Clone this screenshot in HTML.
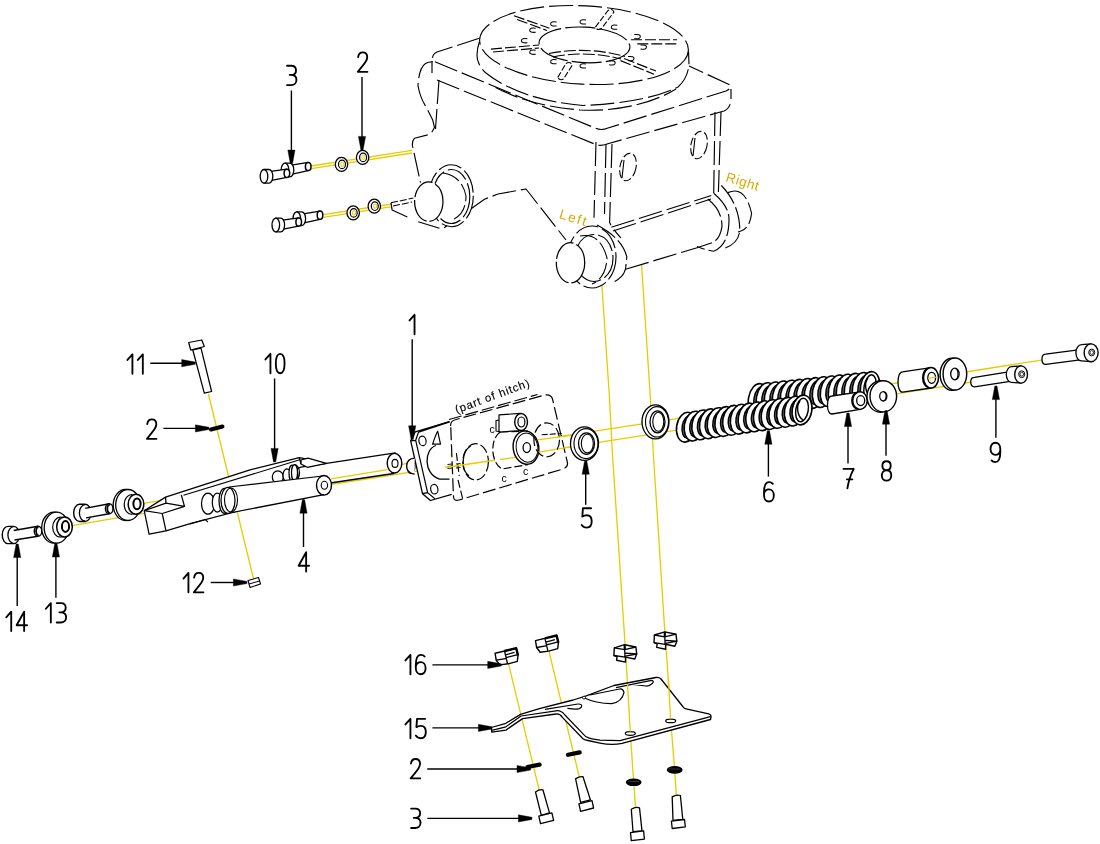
<!DOCTYPE html>
<html><head><meta charset="utf-8"><style>
html,body{margin:0;padding:0;background:#fff;width:1100px;height:844px;overflow:hidden}
svg{display:block;will-change:transform}
</style></head><body>
<svg width="1100" height="844" viewBox="0 0 1100 844">
<rect width="1100" height="844" fill="#fff"/>
<polyline points="308,166.5 412,150.3" fill="none" stroke="#e6cc00" stroke-width="1.3"/>
<polyline points="308,169.2 412,153" fill="none" stroke="#e6cc00" stroke-width="1.3"/>
<polyline points="320,215.2 392,204" fill="none" stroke="#e6cc00" stroke-width="1.3"/>
<polyline points="320,217.8 392,206.6" fill="none" stroke="#e6cc00" stroke-width="1.3"/>
<polyline points="601.8,284 609.3,395 612.5,455 624.8,640 626.4,665 630.3,733 633.7,782 635.5,808" fill="none" stroke="#e6cc00" stroke-width="1.3"/>
<polyline points="641.5,264 650.2,395 653.4,455 664.7,630 667.3,665 670.7,720.7 674.7,770 676.3,795.5" fill="none" stroke="#e6cc00" stroke-width="1.3"/>
<polyline points="208.4,394 253.6,579" fill="none" stroke="#e6cc00" stroke-width="1.3"/>
<polyline points="38.2,531.2 72.3,525.7 146,512.8" fill="none" stroke="#e6cc00" stroke-width="1.3"/>
<polyline points="111.9,508.6 136.4,504.6 166,499.6" fill="none" stroke="#e6cc00" stroke-width="1.3"/>
<polyline points="324,485.5 445,466.8 575,446.2 680,429.6 760,417" fill="none" stroke="#e6cc00" stroke-width="1.3"/>
<polyline points="324,480 388,469.5 410,462 537.5,439.8 680,418.2 760,405.5" fill="none" stroke="#e6cc00" stroke-width="1.3"/>
<polyline points="760,405.5 890,384 1043,359.8" fill="none" stroke="#e6cc00" stroke-width="1.3"/>
<polyline points="760,417 890,394.8 972,382" fill="none" stroke="#e6cc00" stroke-width="1.3"/>
<polyline points="508.5,663.8 539.2,790" fill="none" stroke="#e6cc00" stroke-width="1.3"/>
<polyline points="548.9,651.1 579.3,777" fill="none" stroke="#e6cc00" stroke-width="1.3"/>
<path d="M480,38 L437,52 Q431,55 433,61 L595,128 Q601,131 608,128 L726,91 Q734,87 728,84 L689,66" fill="none" stroke="#000" stroke-width="1.15" stroke-dasharray="24 5" stroke-linejoin="round"/>
<path d="M432,61 L432,73 M437,80 L597,145 Q602,146 607,144 L724,111 Q731,108 731,98 L731,89" fill="none" stroke="#000" stroke-width="1.15" stroke-dasharray="24 5" stroke-linejoin="round"/>
<path d="M479.4,41.8 Q476,52 477.5,59.6 Q480,68 485.6,72.7 Q520,100 583,105.5 Q645,103 678,87 Q688,78 689,64 L688.5,51.2" fill="#fff" stroke="#000" stroke-width="1.15" stroke-dasharray="24 5" stroke-linejoin="round"/>
<path d="M495.5,87.5 C520,100 545,107 580,110 C620,112 655,102 676,89" fill="none" stroke="#000" stroke-width="1.15" stroke-dasharray="24 5" stroke-linejoin="round"/>
<ellipse cx="584" cy="45" rx="104.5" ry="39.2" transform="rotate(3 584 45)" fill="#fff" stroke="#000" stroke-width="1.15" stroke-dasharray="24 5"/>
<ellipse cx="584.5" cy="44.9" rx="45.5" ry="17.8" transform="rotate(3 584.5 44.9)" fill="#fff" stroke="#000" stroke-width="1.15" stroke-dasharray="30 4"/>
<path d="M514,15.7 L549.4,28.2" fill="none" stroke="#000" stroke-width="1.15" stroke-dasharray="11 3" stroke-linejoin="round"/>
<path d="M517,19.5 L547,30.5" fill="none" stroke="#000" stroke-width="1.15" stroke-dasharray="11 3" stroke-linejoin="round"/>
<path d="M491,49.1 L539,45" fill="none" stroke="#000" stroke-width="1.15" stroke-dasharray="11 3" stroke-linejoin="round"/>
<path d="M493,52 L539,48" fill="none" stroke="#000" stroke-width="1.15" stroke-dasharray="11 3" stroke-linejoin="round"/>
<path d="M631,39.7 L677,39.7" fill="none" stroke="#000" stroke-width="1.15" stroke-dasharray="11 3" stroke-linejoin="round"/>
<path d="M637.3,43.9 L677,43.9" fill="none" stroke="#000" stroke-width="1.15" stroke-dasharray="11 3" stroke-linejoin="round"/>
<path d="M620.5,60.6 L654,74.2" fill="none" stroke="#000" stroke-width="1.15" stroke-dasharray="11 3" stroke-linejoin="round"/>
<path d="M624,58.5 L656,71" fill="none" stroke="#000" stroke-width="1.15" stroke-dasharray="11 3" stroke-linejoin="round"/>
<path d="M595.4,27.2 L608,10.5 Q612,8 614,12 L601.5,28.5 Q597.5,31 595.4,27.2 Z" fill="none" stroke="#000" stroke-width="1.1" stroke-dasharray="6 2" stroke-linejoin="round"/>
<path d="M557.8,77.4 L566,63.5 Q570,61 572.4,65 L563.5,79 Q559.5,81 557.8,77.4 Z" fill="none" stroke="#000" stroke-width="1.1" stroke-dasharray="6 2" stroke-linejoin="round"/>
<path transform="translate(532.7,30.3) rotate(0)" d="M3,-2 Q-3,-3 -3,0 Q-3,2.5 3,2" fill="none" stroke="#000" stroke-width="1.05"/>
<path transform="translate(553.6,24) rotate(0)" d="M3,-2 Q-3,-3 -3,0 Q-3,2.5 3,2" fill="none" stroke="#000" stroke-width="1.05"/>
<path transform="translate(583,22) rotate(0)" d="M3,-2 Q-3,-3 -3,0 Q-3,2.5 3,2" fill="none" stroke="#000" stroke-width="1.05"/>
<path transform="translate(614.3,27.2) rotate(0)" d="M3,-2 Q-3,-3 -3,0 Q-3,2.5 3,2" fill="none" stroke="#000" stroke-width="1.05"/>
<path transform="translate(637.3,36.6) rotate(180)" d="M3,-2 Q-3,-3 -3,0 Q-3,2.5 3,2" fill="none" stroke="#000" stroke-width="1.05"/>
<path transform="translate(643.5,47) rotate(180)" d="M3,-2 Q-3,-3 -3,0 Q-3,2.5 3,2" fill="none" stroke="#000" stroke-width="1.05"/>
<path transform="translate(524.4,40.8) rotate(0)" d="M3,-2 Q-3,-3 -3,0 Q-3,2.5 3,2" fill="none" stroke="#000" stroke-width="1.05"/>
<path transform="translate(532.7,52.3) rotate(0)" d="M3,-2 Q-3,-3 -3,0 Q-3,2.5 3,2" fill="none" stroke="#000" stroke-width="1.05"/>
<path transform="translate(553.6,61.7) rotate(0)" d="M3,-2 Q-3,-3 -3,0 Q-3,2.5 3,2" fill="none" stroke="#000" stroke-width="1.05"/>
<path transform="translate(583,65.9) rotate(0)" d="M3,-2 Q-3,-3 -3,0 Q-3,2.5 3,2" fill="none" stroke="#000" stroke-width="1.05"/>
<path transform="translate(612.2,62.7) rotate(180)" d="M3,-2 Q-3,-3 -3,0 Q-3,2.5 3,2" fill="none" stroke="#000" stroke-width="1.05"/>
<path transform="translate(631,58.5) rotate(180)" d="M3,-2 Q-3,-3 -3,0 Q-3,2.5 3,2" fill="none" stroke="#000" stroke-width="1.05"/>
<path d="M549,53.5 Q587,46 625,56.5" fill="none" stroke="#000" stroke-width="1.1" stroke-dasharray="12 3" stroke-linejoin="round"/>
<path d="M553,57 Q587,50 621,59" fill="none" stroke="#000" stroke-width="1.1" stroke-dasharray="12 3" stroke-linejoin="round"/>
<path d="M432.7,61.8 Q428,62 425.5,63.6 Q419,68 418,85.5 Q420,98 426.4,107.3 L432.7,120 L434.5,127.3 Q432,133 429,134.5 L414.5,138.2 Q412,141 412.3,145 L420.5,182.7" fill="none" stroke="#000" stroke-width="1.15" stroke-dasharray="24 5" stroke-linejoin="round"/>
<path d="M439,80 L435.5,129" fill="none" stroke="#000" stroke-width="1.15" stroke-dasharray="24 5" stroke-linejoin="round"/>
<path d="M391,202.8 L392.1,209.9 L409.9,218.2 M418.2,221.8 L439.5,228.3 M444.2,227.7 L484.5,199.2 L498,194 L526,189 L566,240" fill="none" stroke="#000" stroke-width="1.15" stroke-dasharray="24 5" stroke-linejoin="round"/>
<path d="M391,202.8 L413.4,198 M393,206 L412,202" fill="none" stroke="#000" stroke-width="1.05" stroke-dasharray="7 2" stroke-linejoin="round"/>
<ellipse cx="451.3" cy="195.7" rx="22" ry="31" fill="#fff" stroke="#000" stroke-width="1.15" stroke-dasharray="24 4"/>
<ellipse cx="451.3" cy="196.5" rx="18.5" ry="27" fill="none" stroke="#000" stroke-width="1.15" stroke-dasharray="22 4"/>
<path d="M443,173 Q462,176 466,196 Q466,214 452,220" fill="none" stroke="#000" stroke-width="1.1" stroke-dasharray="18 4" stroke-linejoin="round"/>
<ellipse cx="428.8" cy="201.6" rx="14.2" ry="19.8" fill="#fff" stroke="#000" stroke-width="1.25" stroke-dasharray="26 3"/>
<path d="M596,142 L594,217.8" fill="none" stroke="#000" stroke-width="1.15" stroke-dasharray="24 5" stroke-linejoin="round"/>
<path d="M606,144 L604.5,214 M612,144 L609.6,222.5 Q612,228 620.8,237.9" fill="none" stroke="#000" stroke-width="1.15" stroke-dasharray="24 5" stroke-linejoin="round"/>
<path d="M721,112 L718.4,192 M715,112 L713.7,193" fill="none" stroke="#000" stroke-width="1.15" stroke-dasharray="24 5" stroke-linejoin="round"/>
<ellipse cx="628" cy="167" rx="8" ry="14" transform="rotate(12 628 167)" fill="#fff" stroke="#000" stroke-width="1.1" stroke-dasharray="8 3"/>
<ellipse cx="699" cy="145" rx="8" ry="14" transform="rotate(12 699 145)" fill="#fff" stroke="#000" stroke-width="1.1" stroke-dasharray="8 3"/>
<path d="M624,160 L622,178 M695,138 L693,156" fill="none" stroke="#000" stroke-width="1.1" stroke-linejoin="round"/>
<path d="M611.3,227.3 L711.3,195.5 M613,231 L711,199" fill="none" stroke="#000" stroke-width="1.15" stroke-dasharray="24 5" stroke-linejoin="round"/>
<path d="M625.6,269.3 L697.1,247.7" fill="none" stroke="#000" stroke-width="1.15" stroke-dasharray="24 5" stroke-linejoin="round"/>
<path d="M597,225 Q622,238 626.8,256.9 L625.6,268.7 Q624,274 622,275.8 Q617,281 611.3,283" fill="none" stroke="#000" stroke-width="1.15" stroke-dasharray="22 4" stroke-linejoin="round"/>
<path d="M707.8,199 Q722,210 722,226.4 Q720,240 711.3,243 L697.1,247.7" fill="none" stroke="#000" stroke-width="1.15" stroke-dasharray="22 4" stroke-linejoin="round"/>
<path d="M713.7,193.2 Q729,206 729,219.2 Q729,245 713.7,251.2 Q705,250 697,246.5" fill="none" stroke="#000" stroke-width="1.15" stroke-dasharray="22 4" stroke-linejoin="round"/>
<path d="M721.4,185.5 Q740,205 739.8,231 Q738,245 722,248.9" fill="none" stroke="#000" stroke-width="1.15" stroke-dasharray="22 4" stroke-linejoin="round"/>
<path d="M727.9,192.6 Q745,185 751.6,213.3 Q750,228 741,231 L738,232" fill="none" stroke="#000" stroke-width="1.15" stroke-dasharray="22 4" stroke-linejoin="round"/>
<ellipse cx="592" cy="257" rx="24" ry="31" fill="#fff" stroke="#000" stroke-width="1.15" stroke-dasharray="24 4"/>
<ellipse cx="594" cy="258" rx="19" ry="23.5" fill="none" stroke="#000" stroke-width="1.15" stroke-dasharray="22 4"/>
<path d="M580,236 Q600,232 607,258 Q606,278 592,284" fill="none" stroke="#000" stroke-width="1.1" stroke-dasharray="18 4" stroke-linejoin="round"/>
<ellipse cx="570.5" cy="262.8" rx="14.2" ry="20.1" fill="#fff" stroke="#000" stroke-width="1.25" stroke-dasharray="26 3"/>
<text x="558.6" y="218" transform="rotate(17 558.6 218)" font-family="Liberation Sans, sans-serif" font-size="13.5" fill="#dba800" letter-spacing="1.6">Left</text>
<text x="725" y="181" transform="rotate(17 725 181)" font-family="Liberation Sans, sans-serif" font-size="13.5" fill="#dba800" letter-spacing="0.6">Right</text>
<path d="M290,165.4 L308.2,162.4 L308.2,170.6 L290,174.6 Z" fill="#fff" stroke="#000" stroke-width="1.3" stroke-linejoin="round"/>
<ellipse cx="308.2" cy="166.5" rx="2.8" ry="4.1" fill="#fff" stroke="#000" stroke-width="1.5"/>
<path d="M285,163.2 L290,163.2 A3.8,6.8 0 0 1 290,176.8 L285,176.8 Z" fill="#fff" stroke="#000" stroke-width="1.3" stroke-linejoin="round"/>
<ellipse cx="285" cy="170" rx="3.8" ry="6.8" fill="#fff" stroke="#000" stroke-width="1.3"/>
<path d="M269,171.7 L286.9,169.2 L286.9,177.4 L269,180.9 Z" fill="#fff" stroke="#000" stroke-width="1.3" stroke-linejoin="round"/>
<ellipse cx="286.9" cy="173.3" rx="2.8" ry="4.1" fill="#fff" stroke="#000" stroke-width="1.5"/>
<path d="M264,169.5 L269,169.5 A3.8,6.8 0 0 1 269,183.1 L264,183.1 Z" fill="#fff" stroke="#000" stroke-width="1.3" stroke-linejoin="round"/>
<ellipse cx="264" cy="176.3" rx="3.8" ry="6.8" fill="#fff" stroke="#000" stroke-width="1.3"/>
<path d="M301.8,214.1 L320,211.1 L320,219.3 L301.8,223.3 Z" fill="#fff" stroke="#000" stroke-width="1.3" stroke-linejoin="round"/>
<ellipse cx="320" cy="215.2" rx="2.8" ry="4.1" fill="#fff" stroke="#000" stroke-width="1.5"/>
<path d="M296.8,211.9 L301.8,211.9 A3.8,6.8 0 0 1 301.8,225.5 L296.8,225.5 Z" fill="#fff" stroke="#000" stroke-width="1.3" stroke-linejoin="round"/>
<ellipse cx="296.8" cy="218.7" rx="3.8" ry="6.8" fill="#fff" stroke="#000" stroke-width="1.3"/>
<path d="M280.8,220.4 L298.7,217.9 L298.7,226.1 L280.8,229.6 Z" fill="#fff" stroke="#000" stroke-width="1.3" stroke-linejoin="round"/>
<ellipse cx="298.7" cy="222" rx="2.8" ry="4.1" fill="#fff" stroke="#000" stroke-width="1.5"/>
<path d="M275.8,218.2 L280.8,218.2 A3.8,6.8 0 0 1 280.8,231.8 L275.8,231.8 Z" fill="#fff" stroke="#000" stroke-width="1.3" stroke-linejoin="round"/>
<ellipse cx="275.8" cy="225" rx="3.8" ry="6.8" fill="#fff" stroke="#000" stroke-width="1.3"/>
<ellipse cx="341.5" cy="164.4" rx="6.2" ry="7" fill="#fff" stroke="#000" stroke-width="1.3"/>
<ellipse cx="342" cy="164.4" rx="3.5" ry="4.3" fill="#fff" stroke="#000" stroke-width="1.2"/>
<ellipse cx="342.3" cy="164.4" rx="1.6" ry="2.2" fill="none" stroke="#e6cc00" stroke-width="1"/>
<ellipse cx="362.6" cy="157.4" rx="6.2" ry="7" fill="#fff" stroke="#000" stroke-width="1.3"/>
<ellipse cx="363.1" cy="157.4" rx="3.5" ry="4.3" fill="#fff" stroke="#000" stroke-width="1.2"/>
<ellipse cx="363.4" cy="157.4" rx="1.6" ry="2.2" fill="none" stroke="#e6cc00" stroke-width="1"/>
<ellipse cx="353.2" cy="212.9" rx="6.2" ry="7" fill="#fff" stroke="#000" stroke-width="1.3"/>
<ellipse cx="353.7" cy="212.9" rx="3.5" ry="4.3" fill="#fff" stroke="#000" stroke-width="1.2"/>
<ellipse cx="354" cy="212.9" rx="1.6" ry="2.2" fill="none" stroke="#e6cc00" stroke-width="1"/>
<ellipse cx="374.3" cy="206.2" rx="6.2" ry="7" fill="#fff" stroke="#000" stroke-width="1.3"/>
<ellipse cx="374.8" cy="206.2" rx="3.5" ry="4.3" fill="#fff" stroke="#000" stroke-width="1.2"/>
<ellipse cx="375.1" cy="206.2" rx="1.6" ry="2.2" fill="none" stroke="#e6cc00" stroke-width="1"/>
<path d="M8,526.4 A5.8,8.6 0 0 0 8,543.6 L13.7,543.6 A5.8,8.6 0 0 0 13.7,526.4 Z" fill="#fff" stroke="#000" stroke-width="1.4" stroke-linejoin="round"/>
<path d="M13.7,526.7 A5.8,8.3 0 0 0 13.7,543.3" fill="none" stroke="#000" stroke-width="1.3" stroke-linejoin="round"/>
<path d="M13.7,530 L38,526.2 L38,536.2 L13.7,540 Z" fill="#fff" stroke="none" stroke-width="1.2" stroke-linejoin="round"/>
<path d="M13.7,530.5 L38,526.2 M14.5,540 L38,536.2" fill="none" stroke="#000" stroke-width="1.4" stroke-linejoin="round"/>
<ellipse cx="38" cy="531.2" rx="3.8" ry="5" fill="#fff" stroke="#000" stroke-width="1.4"/>
<path d="M38.6,527.2 A2.5,4 0 0 0 38.6,535.2" fill="none" stroke="#000" stroke-width="1.8" stroke-linejoin="round"/>
<ellipse cx="54" cy="527.7" rx="12.3" ry="15.5" fill="#fff" stroke="#000" stroke-width="1.3"/>
<ellipse cx="56.5" cy="527.7" rx="12.3" ry="15.5" fill="#fff" stroke="#000" stroke-width="1.3"/>
<ellipse cx="60.5" cy="527.2" rx="7.8" ry="10" fill="#fff" stroke="#000" stroke-width="1.2"/>
<path d="M60.5,517.2 L64.5,516.9 L64.5,536.9 L60.5,537.2 Z" fill="#fff" stroke="none" stroke-width="1.2" stroke-linejoin="round"/>
<ellipse cx="64.5" cy="526.9" rx="7.8" ry="10" fill="#fff" stroke="#000" stroke-width="1.5"/>
<ellipse cx="65.5" cy="526.5" rx="3.6" ry="5.4" fill="#fff" stroke="#000" stroke-width="2.0"/>
<path d="M79.5,504.3 A5.8,8.6 0 0 0 79.5,521.5 L85.2,521.5 A5.8,8.6 0 0 0 85.2,504.3 Z" fill="#fff" stroke="#000" stroke-width="1.4" stroke-linejoin="round"/>
<path d="M85.2,504.6 A5.8,8.3 0 0 0 85.2,521.2" fill="none" stroke="#000" stroke-width="1.3" stroke-linejoin="round"/>
<path d="M85.2,507.9 L109.2,503.8 L109.2,513.8 L85.2,517.9 Z" fill="#fff" stroke="none" stroke-width="1.2" stroke-linejoin="round"/>
<path d="M85.2,508.4 L109.2,503.8 M86,517.9 L109.2,513.8" fill="none" stroke="#000" stroke-width="1.4" stroke-linejoin="round"/>
<ellipse cx="109.2" cy="508.8" rx="3.8" ry="5" fill="#fff" stroke="#000" stroke-width="1.4"/>
<path d="M109.8,504.8 A2.5,4 0 0 0 109.8,512.8" fill="none" stroke="#000" stroke-width="1.8" stroke-linejoin="round"/>
<ellipse cx="125.5" cy="505" rx="12.3" ry="15.5" fill="#fff" stroke="#000" stroke-width="1.3"/>
<ellipse cx="128" cy="505" rx="12.3" ry="15.5" fill="#fff" stroke="#000" stroke-width="1.3"/>
<ellipse cx="132" cy="504.5" rx="7.8" ry="10" fill="#fff" stroke="#000" stroke-width="1.2"/>
<path d="M132,494.5 L136,494.2 L136,514.2 L132,514.5 Z" fill="#fff" stroke="none" stroke-width="1.2" stroke-linejoin="round"/>
<ellipse cx="136" cy="504.2" rx="7.8" ry="10" fill="#fff" stroke="#000" stroke-width="1.5"/>
<ellipse cx="137" cy="503.8" rx="3.6" ry="5.4" fill="#fff" stroke="#000" stroke-width="2.0"/>
<polygon points="144.2,510.7 165.5,497.1 250,469.8 299.3,457.6 312,460 316,466 250,508 191,523.3 166,530.9 149.1,534.2" fill="#fff" stroke="#000" stroke-width="1.25" stroke-linejoin="round"/>
<path d="M183.5,495.2 L299.8,459.8" fill="none" stroke="#000" stroke-width="1.1" stroke-linejoin="round"/>
<path d="M144.2,510.7 L162.2,513.5 L184.5,506.4 L181.3,494.9 M166,503.1 L184.5,506.4 M165.5,497.1 L166,503.1 L144.2,510.7 M162.2,513.5 L166,530.9" fill="none" stroke="#000" stroke-width="1.25" stroke-linejoin="round"/>
<path d="M190,524 L205.3,519.5 L208,522.2" fill="none" stroke="#000" stroke-width="1.1" stroke-linejoin="round"/>
<path d="M297,469 Q300,466.5 307,466.3 L326.5,463.3 L395.3,452.9 L393.8,473.5 L300,487.5 Z" fill="#fff" stroke="#000" stroke-width="1.3" stroke-linejoin="round"/>
<ellipse cx="394.5" cy="463.2" rx="7.3" ry="9.8" fill="#fff" stroke="#000" stroke-width="1.4"/>
<ellipse cx="395" cy="463.4" rx="3" ry="4" fill="#fff" stroke="#000" stroke-width="1.1"/>
<polyline points="331,478.8 387.5,469.6" fill="none" stroke="#e6cc00" stroke-width="1.3"/>
<path d="M299.3,457.5 L301,464" fill="none" stroke="#000" stroke-width="1.25" stroke-linejoin="round"/>
<polygon points="301,460 308,458.2 326.5,463.3 307.3,467.3 301,464" fill="#fff" stroke="#000" stroke-width="1.25" stroke-linejoin="round"/>
<ellipse cx="277.8" cy="477" rx="5.5" ry="6.2" fill="#fff" stroke="#000" stroke-width="1.25"/>
<ellipse cx="287" cy="475.3" rx="4" ry="6.4" fill="#fff" stroke="#000" stroke-width="1.25"/>
<ellipse cx="292" cy="473" rx="3" ry="8" fill="#fff" stroke="#000" stroke-width="1.25"/>
<ellipse cx="294.5" cy="472.7" rx="3" ry="8" fill="#fff" stroke="#000" stroke-width="1.25"/>
<path d="M294.5,464.7 A5,8 0 0 1 294.5,480.7" fill="none" stroke="#000" stroke-width="1.25" stroke-linejoin="round"/>
<ellipse cx="411" cy="466.4" rx="4" ry="7" fill="#fff" stroke="#000" stroke-width="1.2"/>
<path d="M232,486 L322.5,476 L324,494.7 L234,512 Z" fill="#fff" stroke="none" stroke-width="1.2" stroke-linejoin="round"/>
<ellipse cx="324" cy="485.3" rx="7.5" ry="9.8" fill="#fff" stroke="#000" stroke-width="1.4"/>
<ellipse cx="324.4" cy="485.3" rx="3.2" ry="4" fill="#fff" stroke="#000" stroke-width="1.1"/>
<ellipse cx="208" cy="503.6" rx="6.5" ry="10.6" fill="#fff" stroke="#000" stroke-width="1.25"/>
<ellipse cx="217.3" cy="502.5" rx="5" ry="9.5" fill="#fff" stroke="#000" stroke-width="1.25"/>
<ellipse cx="224.5" cy="500.8" rx="5.5" ry="12.5" fill="#fff" stroke="#000" stroke-width="1.25"/>
<ellipse cx="228" cy="500.4" rx="7" ry="13" fill="#fff" stroke="#000" stroke-width="1.25"/>
<ellipse cx="231" cy="500" rx="6.5" ry="12" fill="none" stroke="#000" stroke-width="1.1"/>
<path d="M229,487 L322.5,476 M232,512.5 L324,494.7" fill="none" stroke="#000" stroke-width="1.25" stroke-linejoin="round"/>
<polygon points="188.7,342.5 201.8,340 204.3,346.5 190.7,350.1" fill="#fff" stroke="#000" stroke-width="1.25" stroke-linejoin="round"/>
<polygon points="192.8,350 201,348.2 211.6,391.5 204.3,393.2" fill="#fff" stroke="#000" stroke-width="1.25" stroke-linejoin="round"/>
<path d="M211,429.5 L222.5,426.5" fill="none" stroke="#000" stroke-width="4" stroke-linejoin="round" stroke-linecap="round"/>
<polygon points="248,580.5 258.5,577.5 260.5,584 250,587.5" fill="#fff" stroke="#000" stroke-width="1.1" stroke-linejoin="round"/>
<path d="M249,584 L259.5,581" fill="none" stroke="#000" stroke-width="1" stroke-linejoin="round"/>
<path d="M450.7,426 Q450,421 456,419.5 L545,395 Q551,394 552.5,399 L567.3,462 Q568.5,467 563,469 L459,500 Q454,501.5 453.5,497 Z" fill="#fff" stroke="#000" stroke-width="1.2" stroke-dasharray="13 4" stroke-linejoin="round"/>
<path d="M449,419.5 L537.5,394.5" fill="none" stroke="#000" stroke-width="1.15" stroke-dasharray="13 4" stroke-linejoin="round"/>
<path d="M456.4,453 L459.2,476 M458,480 L463,500" fill="none" stroke="#000" stroke-width="1.15" stroke-dasharray="8 3" stroke-linejoin="round"/>
<polygon points="415.2,431.9 449.5,421.7 451.7,494.3 430.4,500.5 422.5,493.7 410.7,440.9" fill="#fff" stroke="none" stroke-width="0" stroke-linejoin="round"/>
<path d="M449.5,421.7 L415.2,431.9 L410.7,440.9 L422.5,493.7 L430.4,500.5 L451.7,494.3" fill="none" stroke="#000" stroke-width="1.3" stroke-linejoin="round"/>
<path d="M410.7,440.9 L415.7,440.3 L418.6,431.9 M415.7,440.3 L427.6,492.6 L434.9,498.8 M422.5,493.7 L427.6,492.6" fill="none" stroke="#000" stroke-width="1.2" stroke-linejoin="round"/>
<path d="M418.6,431.9 L449.5,421.7" fill="none" stroke="#000" stroke-width="1.6" stroke-linejoin="round"/>
<ellipse cx="422.5" cy="440.9" rx="3.6" ry="4.8" transform="rotate(-10 422.5 440.9)" fill="#fff" stroke="#000" stroke-width="1.2"/>
<ellipse cx="434.3" cy="489.2" rx="3.6" ry="4.8" transform="rotate(-10 434.3 489.2)" fill="#fff" stroke="#000" stroke-width="1.2"/>
<path d="M432.6,444.2 Q436,434 437.7,431.3 L440.5,444.2 Z" fill="none" stroke="#000" stroke-width="1.2" stroke-linejoin="round"/>
<path d="M436,445.5 C424,449 423,474 439.4,479.1 L449.5,479.1" fill="none" stroke="#000" stroke-width="1.3" stroke-linejoin="round"/>
<path d="M414.6,458 C404,458 404,474 414.6,474" fill="#fff" stroke="#000" stroke-width="1.25" stroke-linejoin="round"/>
<path d="M447.5,464.5 L452,464 M447.5,466.5 L452,466 M447.5,468.5 L452,468 M456,464 L460.5,463.5 M456,466 L460.5,465.5 M456,468 L460.5,467.5" fill="none" stroke="#000" stroke-width="0.9" stroke-linejoin="round"/>
<ellipse cx="475.6" cy="461.8" rx="12.8" ry="18.1" fill="none" stroke="#000" stroke-width="1.2" stroke-dasharray="10 3"/>
<path d="M470.6,446 C461,452 461,470 469,476" fill="none" stroke="#000" stroke-width="1.2" stroke-linejoin="round"/>
<polyline points="445,467.5 500,459.5" fill="none" stroke="#e6cc00" stroke-width="1.3"/>
<path d="M500.5,432 C490,438 490,462 501.9,469 L527.5,464.7 L527.5,431.2 Z" fill="#fff" stroke="#000" stroke-width="1.2" stroke-dasharray="8 3" stroke-linejoin="round"/>
<polyline points="500,459.5 515,457.3" fill="none" stroke="#e6cc00" stroke-width="1.3"/>
<ellipse cx="526" cy="447.6" rx="12.8" ry="16.7" transform="rotate(-8 526 447.6)" fill="#fff" stroke="#000" stroke-width="1.4"/>
<ellipse cx="527" cy="447.6" rx="10.8" ry="14.6" transform="rotate(-8 527 447.6)" fill="none" stroke="#000" stroke-width="1.0"/>
<ellipse cx="526.8" cy="447.6" rx="3.7" ry="5" fill="#fff" stroke="#000" stroke-width="1.3"/>
<polyline points="537.5,452.3 575,446.2" fill="none" stroke="#e6cc00" stroke-width="1.3"/>
<path d="M499,414.9 L520.4,413.4 L521.8,430.5 L499,432 Z" fill="#fff" stroke="#000" stroke-width="1.2" stroke-linejoin="round"/>
<path d="M499,420 L496,420.6 L496,431 L500.5,432" fill="none" stroke="#000" stroke-width="1.1" stroke-linejoin="round"/>
<ellipse cx="521.1" cy="422" rx="6.4" ry="8.5" fill="#fff" stroke="#000" stroke-width="1.4"/>
<ellipse cx="521.4" cy="422" rx="3.5" ry="5" fill="#fff" stroke="#000" stroke-width="1.2"/>
<ellipse cx="546.7" cy="439.8" rx="12.8" ry="17" fill="none" stroke="#000" stroke-width="1.2" stroke-dasharray="10 3.5"/>
<path d="M541.7,434.8 L561.6,433.5" fill="none" stroke="#000" stroke-width="1.1" stroke-dasharray="6 2" stroke-linejoin="round"/>
<polyline points="537.5,439.8 575,434.8" fill="none" stroke="#e6cc00" stroke-width="1.3"/>
<text x="456.8" y="413.5" transform="rotate(-20.4 456.8 413.5)" font-family="Liberation Sans, sans-serif" font-size="11.3" fill="#000" stroke="#000" stroke-width="0.15" letter-spacing="0.85">(part of hitch)</text>
<text x="489.5" y="432.5" font-family="Liberation Sans, sans-serif" font-size="10.5" fill="#000">c</text>
<text x="501.5" y="481.5" font-family="Liberation Sans, sans-serif" font-size="10.5" fill="#000">c</text>
<text x="523" y="475" font-family="Liberation Sans, sans-serif" font-size="10.5" fill="#000">c</text>
<ellipse cx="584.5" cy="443.6" rx="14" ry="16.8" fill="#fff" stroke="#000" stroke-width="1.3"/>
<ellipse cx="586" cy="443.6" rx="12" ry="15" fill="none" stroke="#000" stroke-width="1.1"/>
<ellipse cx="586.5" cy="443.6" rx="8" ry="10.8" fill="#fff" stroke="#000" stroke-width="1.3"/>
<ellipse cx="587.3" cy="443.6" rx="6" ry="9.3" fill="none" stroke="#000" stroke-width="1.1"/>
<ellipse cx="655.5" cy="421.8" rx="13.5" ry="17" fill="#fff" stroke="#000" stroke-width="1.3"/>
<ellipse cx="657" cy="421.8" rx="11.5" ry="15.2" fill="none" stroke="#000" stroke-width="1.1"/>
<ellipse cx="657.5" cy="421.8" rx="7.5" ry="11" fill="#fff" stroke="#000" stroke-width="1.3"/>
<ellipse cx="658.3" cy="421.8" rx="5.5" ry="9.5" fill="none" stroke="#000" stroke-width="1.1"/>
<ellipse cx="758" cy="399" rx="9.5" ry="15.5" transform="rotate(10 758 399)" fill="#fff" stroke="#000" stroke-width="1.6"/>
<ellipse cx="760.4" cy="398.6" rx="6.3" ry="11.9" transform="rotate(10 760.4 398.6)" fill="#8a8a8a" stroke="#000" stroke-width="1.5"/>
<path d="M761.5,395 L762.5,402" fill="none" stroke="#fff" stroke-width="0.8" stroke-dasharray="1.5 1.5" stroke-linejoin="round"/>
<ellipse cx="766" cy="398.1" rx="9.5" ry="15.5" transform="rotate(10 766 398.1)" fill="#fff" stroke="#000" stroke-width="1.6"/>
<ellipse cx="768.4" cy="397.7" rx="6.3" ry="11.9" transform="rotate(10 768.4 397.7)" fill="#8a8a8a" stroke="#000" stroke-width="1.5"/>
<path d="M769.5,394.1 L770.5,401.1" fill="none" stroke="#fff" stroke-width="0.8" stroke-dasharray="1.5 1.5" stroke-linejoin="round"/>
<ellipse cx="774" cy="397.3" rx="9.5" ry="15.5" transform="rotate(10 774 397.3)" fill="#fff" stroke="#000" stroke-width="1.6"/>
<ellipse cx="776.4" cy="396.9" rx="6.3" ry="11.9" transform="rotate(10 776.4 396.9)" fill="#8a8a8a" stroke="#000" stroke-width="1.5"/>
<path d="M777.5,393.3 L778.5,400.3" fill="none" stroke="#fff" stroke-width="0.8" stroke-dasharray="1.5 1.5" stroke-linejoin="round"/>
<ellipse cx="782" cy="396.4" rx="9.5" ry="15.5" transform="rotate(10 782 396.4)" fill="#fff" stroke="#000" stroke-width="1.6"/>
<ellipse cx="784.4" cy="396" rx="6.3" ry="11.9" transform="rotate(10 784.4 396)" fill="#8a8a8a" stroke="#000" stroke-width="1.5"/>
<path d="M785.5,392.4 L786.5,399.4" fill="none" stroke="#fff" stroke-width="0.8" stroke-dasharray="1.5 1.5" stroke-linejoin="round"/>
<ellipse cx="790" cy="395.6" rx="9.5" ry="15.5" transform="rotate(10 790 395.6)" fill="#fff" stroke="#000" stroke-width="1.6"/>
<ellipse cx="792.4" cy="395.2" rx="6.3" ry="11.9" transform="rotate(10 792.4 395.2)" fill="#8a8a8a" stroke="#000" stroke-width="1.5"/>
<path d="M793.5,391.6 L794.5,398.6" fill="none" stroke="#fff" stroke-width="0.8" stroke-dasharray="1.5 1.5" stroke-linejoin="round"/>
<ellipse cx="798" cy="394.7" rx="9.5" ry="15.5" transform="rotate(10 798 394.7)" fill="#fff" stroke="#000" stroke-width="1.6"/>
<ellipse cx="800.4" cy="394.3" rx="6.3" ry="11.9" transform="rotate(10 800.4 394.3)" fill="#8a8a8a" stroke="#000" stroke-width="1.5"/>
<path d="M801.5,390.7 L802.5,397.7" fill="none" stroke="#fff" stroke-width="0.8" stroke-dasharray="1.5 1.5" stroke-linejoin="round"/>
<ellipse cx="806" cy="393.9" rx="9.5" ry="15.5" transform="rotate(10 806 393.9)" fill="#fff" stroke="#000" stroke-width="1.6"/>
<ellipse cx="808.4" cy="393.5" rx="6.3" ry="11.9" transform="rotate(10 808.4 393.5)" fill="#8a8a8a" stroke="#000" stroke-width="1.5"/>
<path d="M809.5,389.9 L810.5,396.9" fill="none" stroke="#fff" stroke-width="0.8" stroke-dasharray="1.5 1.5" stroke-linejoin="round"/>
<ellipse cx="814" cy="393" rx="9.5" ry="15.5" transform="rotate(10 814 393)" fill="#fff" stroke="#000" stroke-width="1.6"/>
<ellipse cx="816.4" cy="392.6" rx="6.3" ry="11.9" transform="rotate(10 816.4 392.6)" fill="#8a8a8a" stroke="#000" stroke-width="1.5"/>
<path d="M817.5,389 L818.5,396" fill="none" stroke="#fff" stroke-width="0.8" stroke-dasharray="1.5 1.5" stroke-linejoin="round"/>
<ellipse cx="822" cy="392.1" rx="9.5" ry="15.5" transform="rotate(10 822 392.1)" fill="#fff" stroke="#000" stroke-width="1.6"/>
<ellipse cx="824.4" cy="391.7" rx="6.3" ry="11.9" transform="rotate(10 824.4 391.7)" fill="#8a8a8a" stroke="#000" stroke-width="1.5"/>
<path d="M825.5,388.1 L826.5,395.1" fill="none" stroke="#fff" stroke-width="0.8" stroke-dasharray="1.5 1.5" stroke-linejoin="round"/>
<ellipse cx="830" cy="391.3" rx="9.5" ry="15.5" transform="rotate(10 830 391.3)" fill="#fff" stroke="#000" stroke-width="1.6"/>
<ellipse cx="832.4" cy="390.9" rx="6.3" ry="11.9" transform="rotate(10 832.4 390.9)" fill="#8a8a8a" stroke="#000" stroke-width="1.5"/>
<path d="M833.5,387.3 L834.5,394.3" fill="none" stroke="#fff" stroke-width="0.8" stroke-dasharray="1.5 1.5" stroke-linejoin="round"/>
<ellipse cx="838" cy="390.4" rx="9.5" ry="15.5" transform="rotate(10 838 390.4)" fill="#fff" stroke="#000" stroke-width="1.6"/>
<ellipse cx="840.4" cy="390" rx="6.3" ry="11.9" transform="rotate(10 840.4 390)" fill="#8a8a8a" stroke="#000" stroke-width="1.5"/>
<path d="M841.5,386.4 L842.5,393.4" fill="none" stroke="#fff" stroke-width="0.8" stroke-dasharray="1.5 1.5" stroke-linejoin="round"/>
<ellipse cx="846" cy="389.6" rx="9.5" ry="15.5" transform="rotate(10 846 389.6)" fill="#fff" stroke="#000" stroke-width="1.6"/>
<ellipse cx="848.4" cy="389.2" rx="6.3" ry="11.9" transform="rotate(10 848.4 389.2)" fill="#8a8a8a" stroke="#000" stroke-width="1.5"/>
<path d="M849.5,385.6 L850.5,392.6" fill="none" stroke="#fff" stroke-width="0.8" stroke-dasharray="1.5 1.5" stroke-linejoin="round"/>
<ellipse cx="854" cy="388.7" rx="9.5" ry="15.5" transform="rotate(10 854 388.7)" fill="#fff" stroke="#000" stroke-width="1.6"/>
<ellipse cx="856.4" cy="388.3" rx="6.3" ry="11.9" transform="rotate(10 856.4 388.3)" fill="#8a8a8a" stroke="#000" stroke-width="1.5"/>
<path d="M857.5,384.7 L858.5,391.7" fill="none" stroke="#fff" stroke-width="0.8" stroke-dasharray="1.5 1.5" stroke-linejoin="round"/>
<ellipse cx="862" cy="387.9" rx="9.5" ry="15.5" transform="rotate(10 862 387.9)" fill="#fff" stroke="#000" stroke-width="1.6"/>
<ellipse cx="864.4" cy="387.5" rx="6.3" ry="11.9" transform="rotate(10 864.4 387.5)" fill="#8a8a8a" stroke="#000" stroke-width="1.5"/>
<path d="M865.5,383.9 L866.5,390.9" fill="none" stroke="#fff" stroke-width="0.8" stroke-dasharray="1.5 1.5" stroke-linejoin="round"/>
<ellipse cx="870" cy="387" rx="9.5" ry="15.5" transform="rotate(10 870 387)" fill="#fff" stroke="#000" stroke-width="1.6"/>
<ellipse cx="870" cy="387" rx="5.9" ry="12.3" transform="rotate(10 870 387)" fill="#fff" stroke="#000" stroke-width="1.5"/>
<path d="M868,378 C864,383 865,393 871,397" fill="none" stroke="#000" stroke-width="1.4" stroke-linejoin="round"/>
<ellipse cx="686.4" cy="427.2" rx="9.8" ry="15" transform="rotate(10 686.4 427.2)" fill="#fff" stroke="#000" stroke-width="1.6"/>
<ellipse cx="688.8" cy="426.8" rx="6.6" ry="11.4" transform="rotate(10 688.8 426.8)" fill="#8a8a8a" stroke="#000" stroke-width="1.5"/>
<path d="M689.9,423.2 L690.9,430.2" fill="none" stroke="#fff" stroke-width="0.8" stroke-dasharray="1.5 1.5" stroke-linejoin="round"/>
<ellipse cx="694.1" cy="426.1" rx="9.8" ry="15" transform="rotate(10 694.1 426.1)" fill="#fff" stroke="#000" stroke-width="1.6"/>
<ellipse cx="696.5" cy="425.7" rx="6.6" ry="11.4" transform="rotate(10 696.5 425.7)" fill="#8a8a8a" stroke="#000" stroke-width="1.5"/>
<path d="M697.6,422.1 L698.6,429.1" fill="none" stroke="#fff" stroke-width="0.8" stroke-dasharray="1.5 1.5" stroke-linejoin="round"/>
<ellipse cx="701.8" cy="424.9" rx="9.8" ry="15" transform="rotate(10 701.8 424.9)" fill="#fff" stroke="#000" stroke-width="1.6"/>
<ellipse cx="704.2" cy="424.5" rx="6.6" ry="11.4" transform="rotate(10 704.2 424.5)" fill="#8a8a8a" stroke="#000" stroke-width="1.5"/>
<path d="M705.3,420.9 L706.3,427.9" fill="none" stroke="#fff" stroke-width="0.8" stroke-dasharray="1.5 1.5" stroke-linejoin="round"/>
<ellipse cx="709.5" cy="423.8" rx="9.8" ry="15" transform="rotate(10 709.5 423.8)" fill="#fff" stroke="#000" stroke-width="1.6"/>
<ellipse cx="711.9" cy="423.4" rx="6.6" ry="11.4" transform="rotate(10 711.9 423.4)" fill="#8a8a8a" stroke="#000" stroke-width="1.5"/>
<path d="M713,419.8 L714,426.8" fill="none" stroke="#fff" stroke-width="0.8" stroke-dasharray="1.5 1.5" stroke-linejoin="round"/>
<ellipse cx="717.2" cy="422.6" rx="9.8" ry="15" transform="rotate(10 717.2 422.6)" fill="#fff" stroke="#000" stroke-width="1.6"/>
<ellipse cx="719.6" cy="422.2" rx="6.6" ry="11.4" transform="rotate(10 719.6 422.2)" fill="#8a8a8a" stroke="#000" stroke-width="1.5"/>
<path d="M720.7,418.6 L721.7,425.6" fill="none" stroke="#fff" stroke-width="0.8" stroke-dasharray="1.5 1.5" stroke-linejoin="round"/>
<ellipse cx="724.9" cy="421.5" rx="9.8" ry="15" transform="rotate(10 724.9 421.5)" fill="#fff" stroke="#000" stroke-width="1.6"/>
<ellipse cx="727.3" cy="421.1" rx="6.6" ry="11.4" transform="rotate(10 727.3 421.1)" fill="#8a8a8a" stroke="#000" stroke-width="1.5"/>
<path d="M728.4,417.5 L729.4,424.5" fill="none" stroke="#fff" stroke-width="0.8" stroke-dasharray="1.5 1.5" stroke-linejoin="round"/>
<ellipse cx="732.6" cy="420.3" rx="9.8" ry="15" transform="rotate(10 732.6 420.3)" fill="#fff" stroke="#000" stroke-width="1.6"/>
<ellipse cx="735" cy="419.9" rx="6.6" ry="11.4" transform="rotate(10 735 419.9)" fill="#8a8a8a" stroke="#000" stroke-width="1.5"/>
<path d="M736.1,416.3 L737.1,423.3" fill="none" stroke="#fff" stroke-width="0.8" stroke-dasharray="1.5 1.5" stroke-linejoin="round"/>
<ellipse cx="740.3" cy="419.2" rx="9.8" ry="15" transform="rotate(10 740.3 419.2)" fill="#fff" stroke="#000" stroke-width="1.6"/>
<ellipse cx="742.7" cy="418.8" rx="6.6" ry="11.4" transform="rotate(10 742.7 418.8)" fill="#8a8a8a" stroke="#000" stroke-width="1.5"/>
<path d="M743.8,415.2 L744.8,422.2" fill="none" stroke="#fff" stroke-width="0.8" stroke-dasharray="1.5 1.5" stroke-linejoin="round"/>
<ellipse cx="748.1" cy="418" rx="9.8" ry="15" transform="rotate(10 748.1 418)" fill="#fff" stroke="#000" stroke-width="1.6"/>
<ellipse cx="750.5" cy="417.6" rx="6.6" ry="11.4" transform="rotate(10 750.5 417.6)" fill="#8a8a8a" stroke="#000" stroke-width="1.5"/>
<path d="M751.6,414 L752.6,421" fill="none" stroke="#fff" stroke-width="0.8" stroke-dasharray="1.5 1.5" stroke-linejoin="round"/>
<ellipse cx="755.8" cy="416.9" rx="9.8" ry="15" transform="rotate(10 755.8 416.9)" fill="#fff" stroke="#000" stroke-width="1.6"/>
<ellipse cx="758.2" cy="416.5" rx="6.6" ry="11.4" transform="rotate(10 758.2 416.5)" fill="#8a8a8a" stroke="#000" stroke-width="1.5"/>
<path d="M759.3,412.9 L760.3,419.9" fill="none" stroke="#fff" stroke-width="0.8" stroke-dasharray="1.5 1.5" stroke-linejoin="round"/>
<ellipse cx="763.5" cy="415.7" rx="9.8" ry="15" transform="rotate(10 763.5 415.7)" fill="#fff" stroke="#000" stroke-width="1.6"/>
<ellipse cx="765.9" cy="415.3" rx="6.6" ry="11.4" transform="rotate(10 765.9 415.3)" fill="#8a8a8a" stroke="#000" stroke-width="1.5"/>
<path d="M767,411.7 L768,418.7" fill="none" stroke="#fff" stroke-width="0.8" stroke-dasharray="1.5 1.5" stroke-linejoin="round"/>
<ellipse cx="771.2" cy="414.6" rx="9.8" ry="15" transform="rotate(10 771.2 414.6)" fill="#fff" stroke="#000" stroke-width="1.6"/>
<ellipse cx="773.6" cy="414.2" rx="6.6" ry="11.4" transform="rotate(10 773.6 414.2)" fill="#8a8a8a" stroke="#000" stroke-width="1.5"/>
<path d="M774.7,410.6 L775.7,417.6" fill="none" stroke="#fff" stroke-width="0.8" stroke-dasharray="1.5 1.5" stroke-linejoin="round"/>
<ellipse cx="778.9" cy="413.4" rx="9.8" ry="15" transform="rotate(10 778.9 413.4)" fill="#fff" stroke="#000" stroke-width="1.6"/>
<ellipse cx="781.3" cy="413" rx="6.6" ry="11.4" transform="rotate(10 781.3 413)" fill="#8a8a8a" stroke="#000" stroke-width="1.5"/>
<path d="M782.4,409.4 L783.4,416.4" fill="none" stroke="#fff" stroke-width="0.8" stroke-dasharray="1.5 1.5" stroke-linejoin="round"/>
<ellipse cx="786.6" cy="412.3" rx="9.8" ry="15" transform="rotate(10 786.6 412.3)" fill="#fff" stroke="#000" stroke-width="1.6"/>
<ellipse cx="789" cy="411.9" rx="6.6" ry="11.4" transform="rotate(10 789 411.9)" fill="#8a8a8a" stroke="#000" stroke-width="1.5"/>
<path d="M790.1,408.3 L791.1,415.3" fill="none" stroke="#fff" stroke-width="0.8" stroke-dasharray="1.5 1.5" stroke-linejoin="round"/>
<ellipse cx="794.3" cy="411.1" rx="9.8" ry="15" transform="rotate(10 794.3 411.1)" fill="#fff" stroke="#000" stroke-width="1.6"/>
<ellipse cx="796.7" cy="410.7" rx="6.6" ry="11.4" transform="rotate(10 796.7 410.7)" fill="#8a8a8a" stroke="#000" stroke-width="1.5"/>
<path d="M797.8,407.1 L798.8,414.1" fill="none" stroke="#fff" stroke-width="0.8" stroke-dasharray="1.5 1.5" stroke-linejoin="round"/>
<ellipse cx="802" cy="410" rx="9.8" ry="15" transform="rotate(10 802 410)" fill="#fff" stroke="#000" stroke-width="1.6"/>
<ellipse cx="802" cy="410" rx="6.2" ry="11.8" transform="rotate(10 802 410)" fill="#fff" stroke="#000" stroke-width="1.5"/>
<path d="M800,401 C796,406 797,416 803,420" fill="none" stroke="#000" stroke-width="1.4" stroke-linejoin="round"/>
<path d="M832,396 L860,391.8 L860,409.4 L832,414 C826,414 826,396 832,396 Z" fill="#fff" stroke="#000" stroke-width="1.3" stroke-linejoin="round"/>
<ellipse cx="860" cy="400.6" rx="7.3" ry="8.8" fill="#fff" stroke="#000" stroke-width="1.5"/>
<path d="M857.4,392.6 A5.5,8 0 0 0 857.4,408.6" fill="none" stroke="#000" stroke-width="1.6" stroke-linejoin="round"/>
<ellipse cx="860.7" cy="400.6" rx="4" ry="5" fill="#fff" stroke="#000" stroke-width="1.3"/>
<path d="M902.5,371.8 L931,367.6 L931,388 L902.5,392.2 C896.5,392.2 896.5,371.8 902.5,371.8 Z" fill="#fff" stroke="#000" stroke-width="1.3" stroke-linejoin="round"/>
<ellipse cx="931" cy="377.8" rx="7.5" ry="10.2" fill="#fff" stroke="#000" stroke-width="1.5"/>
<path d="M928.4,368.4 A5.6,9.4 0 0 0 928.4,387.2" fill="none" stroke="#000" stroke-width="1.6" stroke-linejoin="round"/>
<ellipse cx="931.7" cy="377.8" rx="3.9" ry="5.5" fill="#fff" stroke="#000" stroke-width="1.3"/>
<polyline points="928,378.3 936,377.2" fill="none" stroke="#e6cc00" stroke-width="1.3"/>
<ellipse cx="880.3" cy="396.6" rx="13.3" ry="15.6" fill="#fff" stroke="#000" stroke-width="1.4"/>
<ellipse cx="883.3" cy="396.3" rx="13.3" ry="15.6" fill="#fff" stroke="#000" stroke-width="1.4"/>
<ellipse cx="883.3" cy="396.3" rx="3.6" ry="4.7" fill="#fff" stroke="#000" stroke-width="1.3"/>
<path d="M883.8,392.1 A2.2,4.1 0 0 1 883.8,400.5" fill="none" stroke="#000" stroke-width="1.1" stroke-linejoin="round"/>
<ellipse cx="951.9" cy="374.3" rx="11.8" ry="16" fill="#fff" stroke="#000" stroke-width="1.4"/>
<ellipse cx="954.9" cy="374" rx="11.8" ry="16" fill="#fff" stroke="#000" stroke-width="1.4"/>
<ellipse cx="954.9" cy="374" rx="4.2" ry="5.8" fill="#fff" stroke="#000" stroke-width="1.3"/>
<path d="M955.4,368.7 A2.5,5.2 0 0 1 955.4,379.3" fill="none" stroke="#000" stroke-width="1.1" stroke-linejoin="round"/>
<path d="M974.5,377.3 L1010.1,371.7 L1010.1,381.3 L974.5,386.9 C969.5,386.9 969.5,377.3 974.5,377.3 Z" fill="#fff" stroke="#000" stroke-width="1.3" stroke-linejoin="round"/>
<path d="M1021.1,365.9 L1011.4,366.7 A5.1,7.8 0 0 0 1011.4,382.3 L1021.1,383.1 Z" fill="#fff" stroke="#000" stroke-width="1.3" stroke-linejoin="round"/>
<ellipse cx="1021.1" cy="374.5" rx="6.4" ry="8.6" fill="#fff" stroke="#000" stroke-width="1.4"/>
<ellipse cx="1021.7" cy="374.2" rx="3" ry="3.4" fill="#fff" stroke="#000" stroke-width="1.0"/>
<path d="M1020,373.2 l1.7,-1 l1.7,1 l0,2 l-1.7,1 l-1.7,-1 z" fill="none" stroke="#000" stroke-width="0.8"/>
<path d="M1045.7,354.1 L1080.1,349.7 L1080.1,359.9 L1045.7,364.3 C1040.7,364.3 1040.7,354.1 1045.7,354.1 Z" fill="#fff" stroke="#000" stroke-width="1.3" stroke-linejoin="round"/>
<path d="M1091.1,343.9 L1081.5,344.7 A5.6,8.1 0 0 0 1081.5,360.9 L1091.1,361.7 Z" fill="#fff" stroke="#000" stroke-width="1.3" stroke-linejoin="round"/>
<ellipse cx="1091.1" cy="352.8" rx="7" ry="8.9" fill="#fff" stroke="#000" stroke-width="1.4"/>
<ellipse cx="1091.7" cy="352.5" rx="3" ry="3.4" fill="#fff" stroke="#000" stroke-width="1.0"/>
<path d="M1090,351.5 l1.7,-1 l1.7,1 l0,2 l-1.7,1 l-1.7,-1 z" fill="none" stroke="#000" stroke-width="0.8"/>
<path d="M491.3,727.5 L505.9,723.3 L520.5,714.4 L539.4,708.7 L573.2,700 L585.6,696.2 L613.9,685.5 L655.9,677.5 Q659,677 661,679 L683.2,707 Q684,708.5 686,708.9 L708.75,713.9 Q711.5,715 711,717 L710.5,719.5 L622,743.4 Q612,745.5 600,743.1 L588,740.5 Q585,740 583.2,739 L562.4,717.4 Q560,713.5 556,714 L522.6,718.6 L505.9,730.1 L491.8,732.2 Z" fill="#fff" stroke="#000" stroke-width="1.3" stroke-linejoin="round"/>
<path d="M491.8,730.3 L505.9,726.8 L521,716 L556,710.8 Q561,710 564.9,715 L585.7,736.6 Q588.5,738.2 592,738.8 L600,740.2 L620,740.6 L710.5,716.6" fill="none" stroke="#000" stroke-width="1.2" stroke-linejoin="round"/>
<path d="M545,709.3 L578,704 Q582.5,703.8 581.5,706.8 Q579.5,709.3 575,709.2 L567.4,708.3" fill="none" stroke="#000" stroke-width="1.2" stroke-linejoin="round"/>
<path d="M583.3,697.5 Q596,703.5 611.6,703.6 Q622,702 624,692.3 Q623,688.5 619.5,689 L590,695" fill="none" stroke="#000" stroke-width="1.2" stroke-linejoin="round"/>
<path d="M616,687.7 L651.4,680.3 Q654.5,681 652.5,683.2 Q649,686.5 645.7,686 L633,684.3" fill="none" stroke="#000" stroke-width="1.2" stroke-linejoin="round"/>
<ellipse cx="584" cy="697.6" rx="1.6" ry="1.4" fill="#fff" stroke="#000" stroke-width="0.9"/>
<ellipse cx="630.3" cy="733.5" rx="5" ry="1.8" fill="#fff" stroke="#000" stroke-width="1.2"/>
<ellipse cx="670.7" cy="720.9" rx="5" ry="1.8" fill="#fff" stroke="#000" stroke-width="1.2"/>
<polyline points="627.5,684 630.3,731.8" fill="none" stroke="#e6cc00" stroke-width="1.3"/>
<polyline points="668.4,678 670.5,719.2" fill="none" stroke="#e6cc00" stroke-width="1.3"/>
<polygon points="495.1,653.3 516.2,648.2 518,655.5 517.3,661.3 508.2,663.8 499.8,664.9 496.2,660.2" fill="#fff" stroke="#000" stroke-width="1.4" stroke-linejoin="round"/>
<path d="M504.5,651 L516.2,648.2 L518,655.5" fill="none" stroke="#000" stroke-width="2.4" stroke-linejoin="round"/>
<path d="M504.5,651 L507.5,663.5 M506,657.6 L517.8,654.6 M496.2,660.2 L507,658.3 M505.5,654.8 L514.5,652.3" fill="none" stroke="#000" stroke-width="1.3" stroke-linejoin="round"/>
<polygon points="535.5,640.6 556.6,635.5 558.4,642.8 557.7,648.6 548.6,651.1 540.2,652.2 536.6,647.5" fill="#fff" stroke="#000" stroke-width="1.4" stroke-linejoin="round"/>
<path d="M544.9,638.3 L556.6,635.5 L558.4,642.8" fill="none" stroke="#000" stroke-width="2.4" stroke-linejoin="round"/>
<path d="M544.9,638.3 L547.9,650.8 M546.4,644.9 L558.2,641.9 M536.6,647.5 L547.4,645.6 M545.9,642.1 L554.9,639.6" fill="none" stroke="#000" stroke-width="1.3" stroke-linejoin="round"/>
<polygon points="624.7,644.7 635.9,647 636.7,654 634.8,659 625.5,657.1 625.5,662.1 616.6,660.2 617,656.6 613.9,655.5 614.3,647.8" fill="#fff" stroke="#000" stroke-width="1.4" stroke-linejoin="round"/>
<path d="M614.3,647.8 L624.7,649.6 L625,657.6 M624.7,649.6 L635.9,647 M625.5,656.1 L636.7,654 L625.5,653.1 M613.9,655.5 L625.2,657.1" fill="none" stroke="#000" stroke-width="1.3" stroke-linejoin="round"/>
<path d="M624.7,644.7 L624.7,649.6" fill="none" stroke="#000" stroke-width="2.2" stroke-linejoin="round"/>
<polygon points="664.8,631.9 676,634.2 676.8,641.2 674.9,646.2 665.6,644.3 665.6,649.3 656.7,647.4 657.1,643.8 654,642.7 654.4,635" fill="#fff" stroke="#000" stroke-width="1.4" stroke-linejoin="round"/>
<path d="M654.4,635 L664.8,636.8 L665.1,644.8 M664.8,636.8 L676,634.2 M665.6,643.3 L676.8,641.2 L665.6,640.3 M654,642.7 L665.3,644.3" fill="none" stroke="#000" stroke-width="1.3" stroke-linejoin="round"/>
<path d="M664.8,631.9 L664.8,636.8" fill="none" stroke="#000" stroke-width="2.2" stroke-linejoin="round"/>
<path d="M535.5,792 Q539.2,789.3 542.9,789.8 L549.5,812.9 L541.3,815.4 Z" fill="#fff" stroke="#000" stroke-width="1.3" stroke-linejoin="round"/>
<polygon points="538.8,816.2 551.9,812.9 553.6,820.3 540.5,823.6" fill="#fff" stroke="#000" stroke-width="1.3" stroke-linejoin="round"/>
<path d="M575.6,778.9 Q579.3,776.2 583,776.7 L590.4,799.8 L580.6,802.3 Z" fill="#fff" stroke="#000" stroke-width="1.3" stroke-linejoin="round"/>
<polygon points="578.9,803.9 592,800.6 593.6,808 580.6,811.3" fill="#fff" stroke="#000" stroke-width="1.3" stroke-linejoin="round"/>
<path d="M631.3,809.2 Q635.4,806.5 639.5,807.8 L642,830.9 L633,831.7 Z" fill="#fff" stroke="#000" stroke-width="1.3" stroke-linejoin="round"/>
<polygon points="630.5,832.6 643.6,830.9 644.4,839.1 631.3,840.7" fill="#fff" stroke="#000" stroke-width="1.3" stroke-linejoin="round"/>
<path d="M672.2,796.9 Q676.3,794.2 680.4,795.5 L682.8,819.5 L673,820.3 Z" fill="#fff" stroke="#000" stroke-width="1.3" stroke-linejoin="round"/>
<polygon points="671.4,821.1 684.5,819.5 685.3,826.8 672.2,828.5" fill="#fff" stroke="#000" stroke-width="1.3" stroke-linejoin="round"/>
<path d="M527.5,767 L539.6,764.6" fill="none" stroke="#000" stroke-width="4.2" stroke-linejoin="round" stroke-linecap="round"/>
<path d="M568,754.8 L579.7,752.4" fill="none" stroke="#000" stroke-width="4.2" stroke-linejoin="round" stroke-linecap="round"/>
<ellipse cx="633.7" cy="782.3" rx="7.2" ry="3.1" fill="#000" stroke="#000" stroke-width="1.4"/>
<ellipse cx="674.7" cy="769.9" rx="7.2" ry="3.1" fill="#000" stroke="#000" stroke-width="1.4"/>
<path d="M628,781.5 L639,781.5 M669,769 L680,769" fill="none" stroke="#555" stroke-width="0.6" stroke-linejoin="round"/>
<path transform="translate(286.53,65.72) scale(0.9900,0.9700)" d="M0.5,0 L4.8,0 C8,0 9.6,2.1 9.6,4.8 C9.6,7.6 7.6,9.5 4.4,9.5 L3.2,9.5 M4.4,9.5 C8.1,9.5 10,11.8 10,14.6 C10,17.8 7.8,20 4.6,20 L0.5,20" fill="none" stroke="#000" stroke-width="1.85" vector-effect="non-scaling-stroke" stroke-linecap="round" stroke-linejoin="round"/>
<line x1="291.4" y1="90.5" x2="291.4" y2="152.1" stroke="#000" stroke-width="1.4"/>
<path d="M290.3,163.7 L287.8,150.1 L295,150.1 L292.5,163.7 Z" fill="#000" stroke="#000" stroke-width="0.4" stroke-linejoin="round"/>
<path transform="translate(357.82,52.42) scale(0.9600,0.9700)" d="M0.3,4.8 C0.8,1.6 2.7,0 5.1,0 C8,0 9.8,2 9.8,5 C9.8,8 8.2,10.2 0,20 L10,20" fill="none" stroke="#000" stroke-width="1.85" vector-effect="non-scaling-stroke" stroke-linecap="round" stroke-linejoin="round"/>
<line x1="362" y1="76.9" x2="362" y2="138.4" stroke="#000" stroke-width="1.4"/>
<path d="M360.9,150 L358.4,136.4 L365.6,136.4 L363.1,150 Z" fill="#000" stroke="#000" stroke-width="0.4" stroke-linejoin="round"/>
<path transform="translate(409.53,314.82) scale(0.5000,0.9700)" d="M0,5.8 L10,0 L10,20" fill="none" stroke="#000" stroke-width="1.85" vector-effect="non-scaling-stroke" stroke-linecap="round" stroke-linejoin="round"/>
<line x1="412.2" y1="339.2" x2="412.2" y2="427.8" stroke="#000" stroke-width="1.4"/>
<path d="M411.1,439.4 L408.6,425.8 L415.8,425.8 L413.3,439.4 Z" fill="#000" stroke="#000" stroke-width="0.4" stroke-linejoin="round"/>
<path transform="translate(581.72,508.23) scale(1.0000,0.9700)" d="M9.4,0 L1.2,0 L0.6,8.6 C1.9,7.6 3.4,7.2 5,7.2 C8.2,7.2 10,9.5 10,13.5 C10,17.5 8,20 5,20 C2.8,20 1,19 0,17.3" fill="none" stroke="#000" stroke-width="1.85" vector-effect="non-scaling-stroke" stroke-linecap="round" stroke-linejoin="round"/>
<line x1="585.7" y1="504.8" x2="585.7" y2="472.3" stroke="#000" stroke-width="1.4"/>
<path d="M586.8,460.7 L589.3,474.3 L582.1,474.3 L584.6,460.7 Z" fill="#000" stroke="#000" stroke-width="0.4" stroke-linejoin="round"/>
<path transform="translate(127.42,354.32) scale(0.5000,0.9700)" d="M0,5.8 L10,0 L10,20" fill="none" stroke="#000" stroke-width="1.85" vector-effect="non-scaling-stroke" stroke-linecap="round" stroke-linejoin="round"/>
<path transform="translate(137.82,354.32) scale(0.5000,0.9700)" d="M0,5.8 L10,0 L10,20" fill="none" stroke="#000" stroke-width="1.85" vector-effect="non-scaling-stroke" stroke-linecap="round" stroke-linejoin="round"/>
<line x1="150.3" y1="363.2" x2="183.7" y2="363.2" stroke="#000" stroke-width="1.4"/>
<path d="M195.3,364.3 L181.7,366.8 L181.7,359.6 L195.3,362.1 Z" fill="#000" stroke="#000" stroke-width="0.4" stroke-linejoin="round"/>
<path transform="translate(265.43,353.82) scale(0.5000,0.9700)" d="M0,5.8 L10,0 L10,20" fill="none" stroke="#000" stroke-width="1.85" vector-effect="non-scaling-stroke" stroke-linecap="round" stroke-linejoin="round"/>
<path transform="translate(275.82,353.82) scale(0.8750,0.9700)" d="M5,0 C8.4,0 10,3.7 10,10 C10,16.3 8.4,20 5,20 C1.6,20 0,16.3 0,10 C0,3.7 1.6,0 5,0 Z" fill="none" stroke="#000" stroke-width="1.85" vector-effect="non-scaling-stroke" stroke-linecap="round" stroke-linejoin="round"/>
<line x1="274.6" y1="378.5" x2="274.6" y2="450.4" stroke="#000" stroke-width="1.4"/>
<path d="M273.5,462 L271,448.4 L278.2,448.4 L275.7,462 Z" fill="#000" stroke="#000" stroke-width="0.4" stroke-linejoin="round"/>
<path transform="translate(146.93,419.43) scale(0.9600,0.9700)" d="M0.3,4.8 C0.8,1.6 2.7,0 5.1,0 C8,0 9.8,2 9.8,5 C9.8,8 8.2,10.2 0,20 L10,20" fill="none" stroke="#000" stroke-width="1.85" vector-effect="non-scaling-stroke" stroke-linecap="round" stroke-linejoin="round"/>
<line x1="163.4" y1="428.4" x2="197.4" y2="428.4" stroke="#000" stroke-width="1.4"/>
<path d="M209,429.5 L195.4,432 L195.4,424.8 L209,427.3 Z" fill="#000" stroke="#000" stroke-width="0.4" stroke-linejoin="round"/>
<path transform="translate(298.62,552.22) scale(1.0450,0.9700)" d="M7.2,20 L7.2,0 L0,14 L10,14" fill="none" stroke="#000" stroke-width="1.85" vector-effect="non-scaling-stroke" stroke-linecap="round" stroke-linejoin="round"/>
<line x1="303.5" y1="547" x2="303.5" y2="511.2" stroke="#000" stroke-width="1.4"/>
<path d="M304.6,499.6 L307.1,513.2 L299.9,513.2 L302.4,499.6 Z" fill="#000" stroke="#000" stroke-width="0.4" stroke-linejoin="round"/>
<path transform="translate(183.43,572.92) scale(0.5000,0.9700)" d="M0,5.8 L10,0 L10,20" fill="none" stroke="#000" stroke-width="1.85" vector-effect="non-scaling-stroke" stroke-linecap="round" stroke-linejoin="round"/>
<path transform="translate(193.83,572.92) scale(0.9600,0.9700)" d="M0.3,4.8 C0.8,1.6 2.7,0 5.1,0 C8,0 9.8,2 9.8,5 C9.8,8 8.2,10.2 0,20 L10,20" fill="none" stroke="#000" stroke-width="1.85" vector-effect="non-scaling-stroke" stroke-linecap="round" stroke-linejoin="round"/>
<line x1="210.7" y1="582.5" x2="235.4" y2="582.5" stroke="#000" stroke-width="1.4"/>
<path d="M247,583.6 L233.4,586.1 L233.4,578.9 L247,581.4 Z" fill="#000" stroke="#000" stroke-width="0.4" stroke-linejoin="round"/>
<path transform="translate(6.22,611.72) scale(0.5000,0.9700)" d="M0,5.8 L10,0 L10,20" fill="none" stroke="#000" stroke-width="1.85" vector-effect="non-scaling-stroke" stroke-linecap="round" stroke-linejoin="round"/>
<path transform="translate(16.62,611.72) scale(1.0450,0.9700)" d="M7.2,20 L7.2,0 L0,14 L10,14" fill="none" stroke="#000" stroke-width="1.85" vector-effect="non-scaling-stroke" stroke-linecap="round" stroke-linejoin="round"/>
<line x1="17.2" y1="606" x2="17.2" y2="555.6" stroke="#000" stroke-width="1.4"/>
<path d="M18.3,544 L20.8,557.6 L13.6,557.6 L16.1,544 Z" fill="#000" stroke="#000" stroke-width="0.4" stroke-linejoin="round"/>
<path transform="translate(45.82,603.12) scale(0.5000,0.9700)" d="M0,5.8 L10,0 L10,20" fill="none" stroke="#000" stroke-width="1.85" vector-effect="non-scaling-stroke" stroke-linecap="round" stroke-linejoin="round"/>
<path transform="translate(56.22,603.12) scale(0.9900,0.9700)" d="M0.5,0 L4.8,0 C8,0 9.6,2.1 9.6,4.8 C9.6,7.6 7.6,9.5 4.4,9.5 L3.2,9.5 M4.4,9.5 C8.1,9.5 10,11.8 10,14.6 C10,17.8 7.8,20 4.6,20 L0.5,20" fill="none" stroke="#000" stroke-width="1.85" vector-effect="non-scaling-stroke" stroke-linecap="round" stroke-linejoin="round"/>
<line x1="55.9" y1="597.8" x2="55.9" y2="555.1" stroke="#000" stroke-width="1.4"/>
<path d="M57,543.5 L59.5,557.1 L52.3,557.1 L54.8,543.5 Z" fill="#000" stroke="#000" stroke-width="0.4" stroke-linejoin="round"/>
<path transform="translate(764.02,482.12) scale(0.9800,0.9700)" d="M9,1.8 C8.1,0.6 6.7,0 5.1,0 C1.8,0 0,3.6 0,10.5 L0,13.5 C0,17.5 2.1,20 5,20 C7.9,20 10,17.5 10,13.7 C10,9.9 7.9,7.5 5,7.5 C2.5,7.5 0.5,9.3 0,12" fill="none" stroke="#000" stroke-width="1.85" vector-effect="non-scaling-stroke" stroke-linecap="round" stroke-linejoin="round"/>
<line x1="768.4" y1="476.6" x2="768.4" y2="442.3" stroke="#000" stroke-width="1.4"/>
<path d="M769.5,430.7 L772,444.3 L764.8,444.3 L767.3,430.7 Z" fill="#000" stroke="#000" stroke-width="0.4" stroke-linejoin="round"/>
<path transform="translate(843.52,468.93) scale(1.0200,0.9700)" d="M0,0 L10,0 C7,6 5,12 3.8,20 M3.4,10.8 L8.6,10.8" fill="none" stroke="#000" stroke-width="1.85" vector-effect="non-scaling-stroke" stroke-linecap="round" stroke-linejoin="round"/>
<line x1="848" y1="463.4" x2="848" y2="424.6" stroke="#000" stroke-width="1.4"/>
<path d="M849.1,413 L851.6,426.6 L844.4,426.6 L846.9,413 Z" fill="#000" stroke="#000" stroke-width="0.4" stroke-linejoin="round"/>
<path transform="translate(881.82,461.23) scale(0.9450,0.9700)" d="M5,9.3 C2.3,9.3 0.6,7.5 0.6,4.65 C0.6,1.8 2.5,0 5,0 C7.5,0 9.4,1.8 9.4,4.65 C9.4,7.5 7.7,9.3 5,9.3 C1.9,9.3 0,11.6 0,14.7 C0,18 2.2,20 5,20 C7.8,20 10,18 10,14.7 C10,11.6 8.1,9.3 5,9.3 Z" fill="none" stroke="#000" stroke-width="1.85" vector-effect="non-scaling-stroke" stroke-linecap="round" stroke-linejoin="round"/>
<line x1="886" y1="455.7" x2="886" y2="422.2" stroke="#000" stroke-width="1.4"/>
<path d="M887.1,410.6 L889.6,424.2 L882.4,424.2 L884.9,410.6 Z" fill="#000" stroke="#000" stroke-width="0.4" stroke-linejoin="round"/>
<path transform="translate(990.52,442.73) scale(0.9750,0.9700)" d="M1,18.2 C1.9,19.4 3.3,20 4.9,20 C8.2,20 10,16.4 10,9.5 L10,6.5 C10,2.5 7.9,0 5,0 C2.1,0 0,2.5 0,6.3 C0,10.1 2.1,12.5 5,12.5 C7.5,12.5 9.5,10.7 10,8" fill="none" stroke="#000" stroke-width="1.85" vector-effect="non-scaling-stroke" stroke-linecap="round" stroke-linejoin="round"/>
<line x1="995.9" y1="437.8" x2="995.9" y2="397.6" stroke="#000" stroke-width="1.4"/>
<path d="M997,386 L999.5,399.6 L992.3,399.6 L994.8,386 Z" fill="#000" stroke="#000" stroke-width="0.4" stroke-linejoin="round"/>
<path transform="translate(405.43,654.82) scale(0.5000,0.9700)" d="M0,5.8 L10,0 L10,20" fill="none" stroke="#000" stroke-width="1.85" vector-effect="non-scaling-stroke" stroke-linecap="round" stroke-linejoin="round"/>
<path transform="translate(415.82,654.82) scale(0.9800,0.9700)" d="M9,1.8 C8.1,0.6 6.7,0 5.1,0 C1.8,0 0,3.6 0,10.5 L0,13.5 C0,17.5 2.1,20 5,20 C7.9,20 10,17.5 10,13.7 C10,9.9 7.9,7.5 5,7.5 C2.5,7.5 0.5,9.3 0,12" fill="none" stroke="#000" stroke-width="1.85" vector-effect="non-scaling-stroke" stroke-linecap="round" stroke-linejoin="round"/>
<line x1="432.4" y1="664.9" x2="489.7" y2="664.9" stroke="#000" stroke-width="1.4"/>
<path d="M501.3,666 L487.7,668.5 L487.7,661.3 L501.3,663.8 Z" fill="#000" stroke="#000" stroke-width="0.4" stroke-linejoin="round"/>
<path transform="translate(405.43,718.82) scale(0.5000,0.9700)" d="M0,5.8 L10,0 L10,20" fill="none" stroke="#000" stroke-width="1.85" vector-effect="non-scaling-stroke" stroke-linecap="round" stroke-linejoin="round"/>
<path transform="translate(415.82,718.82) scale(1.0000,0.9700)" d="M9.4,0 L1.2,0 L0.6,8.6 C1.9,7.6 3.4,7.2 5,7.2 C8.2,7.2 10,9.5 10,13.5 C10,17.5 8,20 5,20 C2.8,20 1,19 0,17.3" fill="none" stroke="#000" stroke-width="1.85" vector-effect="non-scaling-stroke" stroke-linecap="round" stroke-linejoin="round"/>
<line x1="432.4" y1="727.9" x2="480.4" y2="727.9" stroke="#000" stroke-width="1.4"/>
<path d="M492,729 L478.4,731.5 L478.4,724.3 L492,726.8 Z" fill="#000" stroke="#000" stroke-width="0.4" stroke-linejoin="round"/>
<path transform="translate(410.62,759.02) scale(0.9600,0.9700)" d="M0.3,4.8 C0.8,1.6 2.7,0 5.1,0 C8,0 9.8,2 9.8,5 C9.8,8 8.2,10.2 0,20 L10,20" fill="none" stroke="#000" stroke-width="1.85" vector-effect="non-scaling-stroke" stroke-linecap="round" stroke-linejoin="round"/>
<line x1="427.3" y1="769" x2="519" y2="769" stroke="#000" stroke-width="1.4"/>
<path d="M530.6,770.1 L517,772.6 L517,765.4 L530.6,767.9 Z" fill="#000" stroke="#000" stroke-width="0.4" stroke-linejoin="round"/>
<path transform="translate(410.62,808.62) scale(0.9900,0.9700)" d="M0.5,0 L4.8,0 C8,0 9.6,2.1 9.6,4.8 C9.6,7.6 7.6,9.5 4.4,9.5 L3.2,9.5 M4.4,9.5 C8.1,9.5 10,11.8 10,14.6 C10,17.8 7.8,20 4.6,20 L0.5,20" fill="none" stroke="#000" stroke-width="1.85" vector-effect="non-scaling-stroke" stroke-linecap="round" stroke-linejoin="round"/>
<line x1="427.3" y1="818.4" x2="520.4" y2="818.4" stroke="#000" stroke-width="1.4"/>
<path d="M532,819.5 L518.4,822 L518.4,814.8 L532,817.3 Z" fill="#000" stroke="#000" stroke-width="0.4" stroke-linejoin="round"/>
</svg></body></html>
